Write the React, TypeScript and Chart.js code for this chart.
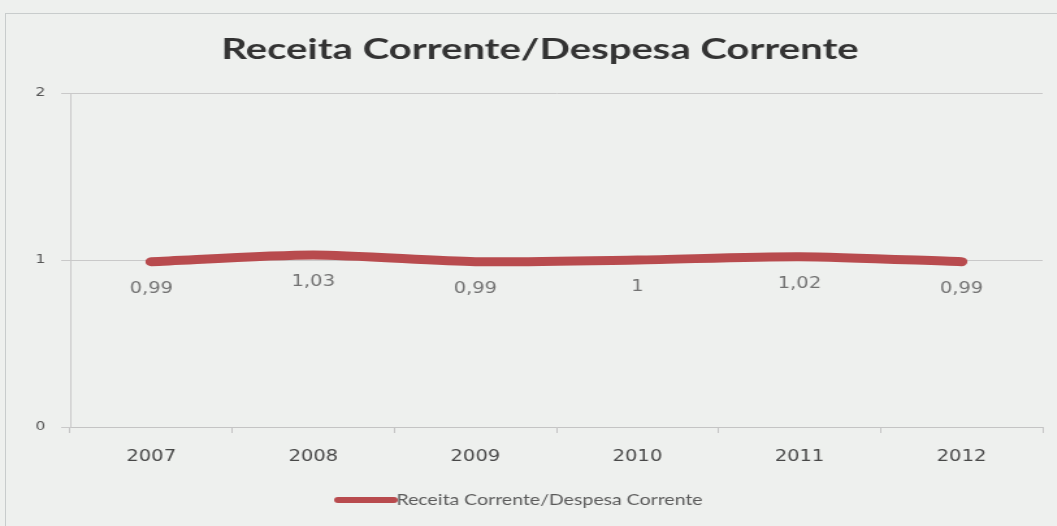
import React, { useEffect, useRef } from "react";
import { Chart, registerables } from "chart.js";

Chart.register(...registerables);

const title = "Receita Corrente/Despesa Corrente";
const years = ["2007", "2008", "2009", "2010", "2011", "2012"];
const ratios = [0.99, 1.03, 0.99, 1, 1.02, 0.99];
const yTicks = [0, 1, 2];

const LINE_COLOR = "#b84b4e";
const STRETCH = 1.3; // the reference is horizontally stretched
const W = Math.round(1057 / STRETCH);
const H = 526;

const labelPlugin = {
  id: "valueLabels",
  afterDatasetsDraw(chart: any) {
    const { ctx } = chart;
    const meta = chart.getDatasetMeta(0);
    ctx.save();
    ctx.font = "15px 'DejaVu Sans'";
    ctx.fillStyle = "#727272";
    ctx.textAlign = "center";
    ctx.textBaseline = "middle";
    meta.data.forEach((pt: any, i: number) => {
      const txt = String(ratios[i]).replace(".", ",");
      ctx.fillText(txt, pt.x, pt.y + 27);
    });
    ctx.restore();
  },
};

const titlePlugin = {
  id: "customTitle",
  afterDraw(chart: any) {
    const { ctx } = chart;
    const cx = 540 / STRETCH;
    ctx.save();
    ctx.translate(cx, 50);
    ctx.scale(1.1, 1);
    ctx.font = "bold 28px Lato";
    ctx.fillStyle = "#333333";
    ctx.textAlign = "center";
    ctx.textBaseline = "middle";
    ctx.fillText(title, 0, 0);
    ctx.restore();
  },
};

const legendPlugin = {
  id: "customLegend",
  afterDraw(chart: any) {
    const { ctx } = chart;
    const ds = chart.data.datasets[0];
    const y = 500;
    const x0 = 260;
    const x1 = 305;
    ctx.save();
    ctx.strokeStyle = ds.borderColor;
    ctx.lineWidth = 6;
    ctx.lineCap = "round";
    ctx.beginPath();
    ctx.moveTo(x0, y);
    ctx.lineTo(x1 - 2, y);
    ctx.stroke();
    ctx.font = "15px Lato";
    ctx.fillStyle = "#5a5a5a";
    ctx.textAlign = "left";
    ctx.textBaseline = "middle";
    ctx.fillText(ds.label, x1, y);
    ctx.restore();
  },
};

export default function App() {
  const ref = useRef<HTMLCanvasElement>(null);
  useEffect(() => {
    if (!ref.current) return;
    const chart = new Chart(ref.current, {
      type: "line",
      data: {
        labels: years,
        datasets: [
          {
            label: title,
            data: ratios,
            borderColor: LINE_COLOR,
            backgroundColor: LINE_COLOR,
            borderWidth: 9,
            borderCapStyle: "round",
            tension: 0.25,
            pointRadius: 0,
            fill: false,
          },
        ],
      },
      options: {
        animation: false,
        responsive: false,
        devicePixelRatio: 1,
        layout: { padding: { left: 0, right: 11, top: 93, bottom: 51 } },
        plugins: {
          title: { display: false },
          legend: { display: false },
          tooltip: { enabled: false },
        },
        scales: {
          x: {
            offset: true,
            grid: {
              offset: true,
              drawOnChartArea: false,
              color: "#c4c4c4",
              tickLength: 6,
            },
            border: { color: "#c4c4c4" },
            ticks: {
              color: "#474747",
              font: { family: "DejaVu Sans", size: 15 },
              padding: 15,
            },
            afterFit(scale: any) {
              scale.height = 48;
            },
          },
          y: {
            min: 0,
            max: 2,
            afterBuildTicks(scale: any) {
              scale.ticks = yTicks.map((v) => ({ value: v }));
            },
            grid: { color: "#c9c9c9", tickLength: 7 },
            border: { color: "#c9c9c9" },
            ticks: {
              color: "#555",
              font: { family: "DejaVu Sans", size: 12 },
              padding: 12,
            },
            afterFit(scale: any) {
              scale.width = 54;
            },
          },
        },
      },
      plugins: [labelPlugin, titlePlugin, legendPlugin],
    });
    return () => chart.destroy();
  }, []);

  return (
    <div
      style={{
        position: "fixed",
        left: 0,
        top: 0,
        width: 1057,
        height: 526,
        background: "#eef0ee",
        overflow: "hidden",
      }}
    >
      <div
        style={{
          position: "absolute",
          left: 5,
          top: 13,
          width: 1060,
          height: 520,
          borderLeft: "1px solid #c8cccc",
          borderTop: "1px solid #c8cccc",
        }}
      />
      <div
        style={{
          position: "absolute",
          left: 0,
          top: 0,
          width: W,
          height: H,
          transform: `scaleX(${STRETCH})`,
          transformOrigin: "0 0",
        }}
      >
        <canvas
          ref={ref}
          width={W}
          height={H}
          style={{ display: "block", width: W, height: H }}
        />
      </div>
    </div>
  );
}
